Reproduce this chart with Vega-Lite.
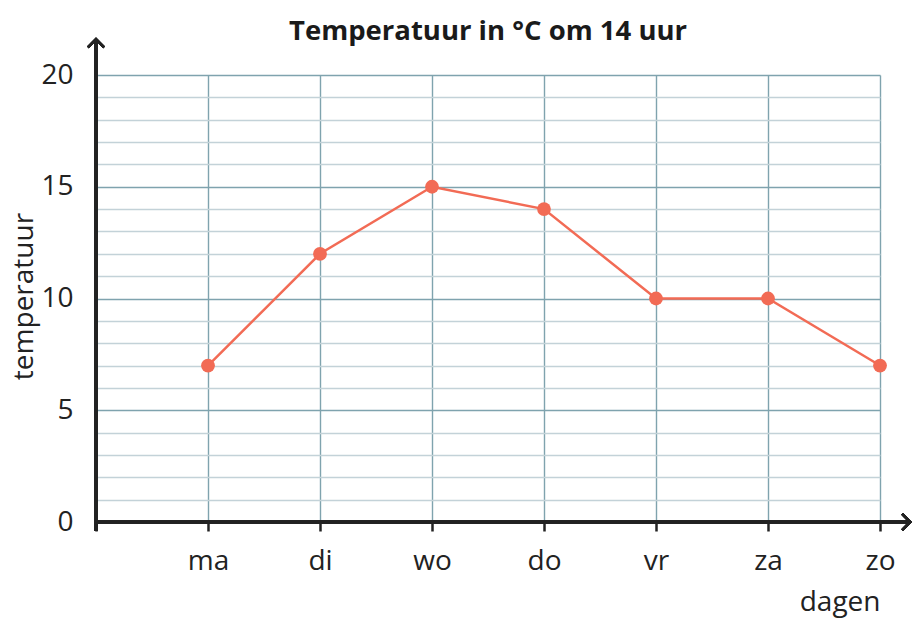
{
  "$schema": "https://vega.github.io/schema/vega-lite/v6.json",
  "autosize": "none",
  "width": 784,
  "height": 447,
  "padding": {"left": 96, "top": 75, "right": 32, "bottom": 96},
  "background": "white",
  "config": {
    "view": {"stroke": null},
    "font": "Open Sans"
  },
  "title": {
    "text": "Temperatuur in °C om 14 uur",
    "fontSize": 27.5,
    "fontWeight": "bold",
    "font": "Open Sans",
    "color": "#1a1a1a",
    "anchor": "middle",
    "frame": "group",
    "baseline": "alphabetic",
    "offset": 0,
    "dy": 33
  },
  "data": {
    "values": [
      {"nr": 1, "dag": "ma", "temperatuur": 7},
      {"nr": 2, "dag": "di", "temperatuur": 12},
      {"nr": 3, "dag": "wo", "temperatuur": 15},
      {"nr": 4, "dag": "do", "temperatuur": 14},
      {"nr": 5, "dag": "vr", "temperatuur": 10},
      {"nr": 6, "dag": "za", "temperatuur": 10},
      {"nr": 7, "dag": "zo", "temperatuur": 7}
    ]
  },
  "layer": [
    {
      "mark": {"type": "line", "color": "#f26b55", "strokeWidth": 2.5},
      "encoding": {
        "x": {
          "field": "nr",
          "type": "quantitative",
          "scale": {"domain": [0, 7], "nice": false, "zero": false},
          "axis": {
            "values": [0, 1, 2, 3, 4, 5, 6, 7],
            "tickCount": 10,
            "labelExpr": "['', 'ma', 'di', 'wo', 'do', 'vr', 'za', 'zo'][datum.value]",
            "labelOverlap": false,
            "title": "dagen",
            "titleAnchor": null,
            "titleAlign": "right",
            "titleBaseline": "alphabetic",
            "titleX": 784,
            "titleY": 88,
            "titleFontSize": 28,
            "titleFontWeight": "normal",
            "titleColor": "#222222",
            "labelFontSize": 28,
            "labelColor": "#222222",
            "labelPadding": 16,
            "labelFlush": false,
            "domain": false,
            "ticks": true,
            "tickSize": 9,
            "tickWidth": 2.5,
            "tickColor": "#222222",
            "grid": true,
            "gridColor": "#7fa3ae",
            "gridWidth": 1.4,
            "gridOpacity": 1
          }
        },
        "y": {
          "field": "temperatuur",
          "type": "quantitative",
          "scale": {"domain": [0, 20], "nice": false},
          "axis": {
            "values": [0, 1, 2, 3, 4, 5, 6, 7, 8, 9, 10, 11, 12, 13, 14, 15, 16, 17, 18, 19, 20],
            "tickCount": 25,
            "labelExpr": "datum.value % 5 === 0 ? datum.value : ''",
            "labelOverlap": false,
            "title": "temperatuur",
            "titleAngle": -90,
            "titleAlign": "center",
            "titleBaseline": "middle",
            "titleX": -72,
            "titleY": 221,
            "titleFontSize": 28,
            "titleFontWeight": "normal",
            "titleColor": "#222222",
            "labelFontSize": 28,
            "labelColor": "#222222",
            "labelPadding": 23,
            "labelFlush": false,
            "domain": false,
            "ticks": false,
            "grid": true,
            "gridColor": {"condition": {"test": "datum.value % 5 === 0", "value": "#7fa3ae"}, "value": "#c3d2d8"},
            "gridWidth": 1.6,
            "gridOpacity": 1
          }
        }
      }
    },
    {
      "mark": {"type": "point", "filled": true, "color": "#f26b55", "size": 190, "opacity": 1},
      "encoding": {
        "x": {"field": "nr", "type": "quantitative"},
        "y": {"field": "temperatuur", "type": "quantitative"}
      }
    },
    {
      "mark": {"type": "rule", "color": "#222222", "strokeWidth": 3, "clip": false},
      "encoding": {
        "x": {"datum": 0},
        "x2": {"datum": 7.27},
        "y": {"datum": 0}
      }
    },
    {
      "mark": {"type": "rule", "color": "#222222", "strokeWidth": 3, "clip": false},
      "encoding": {
        "x": {"datum": 0},
        "y": {"datum": -0.4},
        "y2": {"datum": 21.6}
      }
    },
    {
      "mark": {"type": "point", "shape": "M -1 1 L 0 0 L 1 1", "filled": false, "stroke": "#222222", "strokeWidth": 2.5, "size": 260, "opacity": 1, "clip": false},
      "encoding": {
        "x": {"datum": 0},
        "y": {"datum": 21.6}
      }
    },
    {
      "mark": {"type": "point", "shape": "M -1 -1 L 0 0 L -1 1", "filled": false, "stroke": "#222222", "strokeWidth": 2.5, "size": 260, "opacity": 1, "clip": false},
      "encoding": {
        "x": {"datum": 7.27},
        "y": {"datum": 0}
      }
    }
  ]
}
